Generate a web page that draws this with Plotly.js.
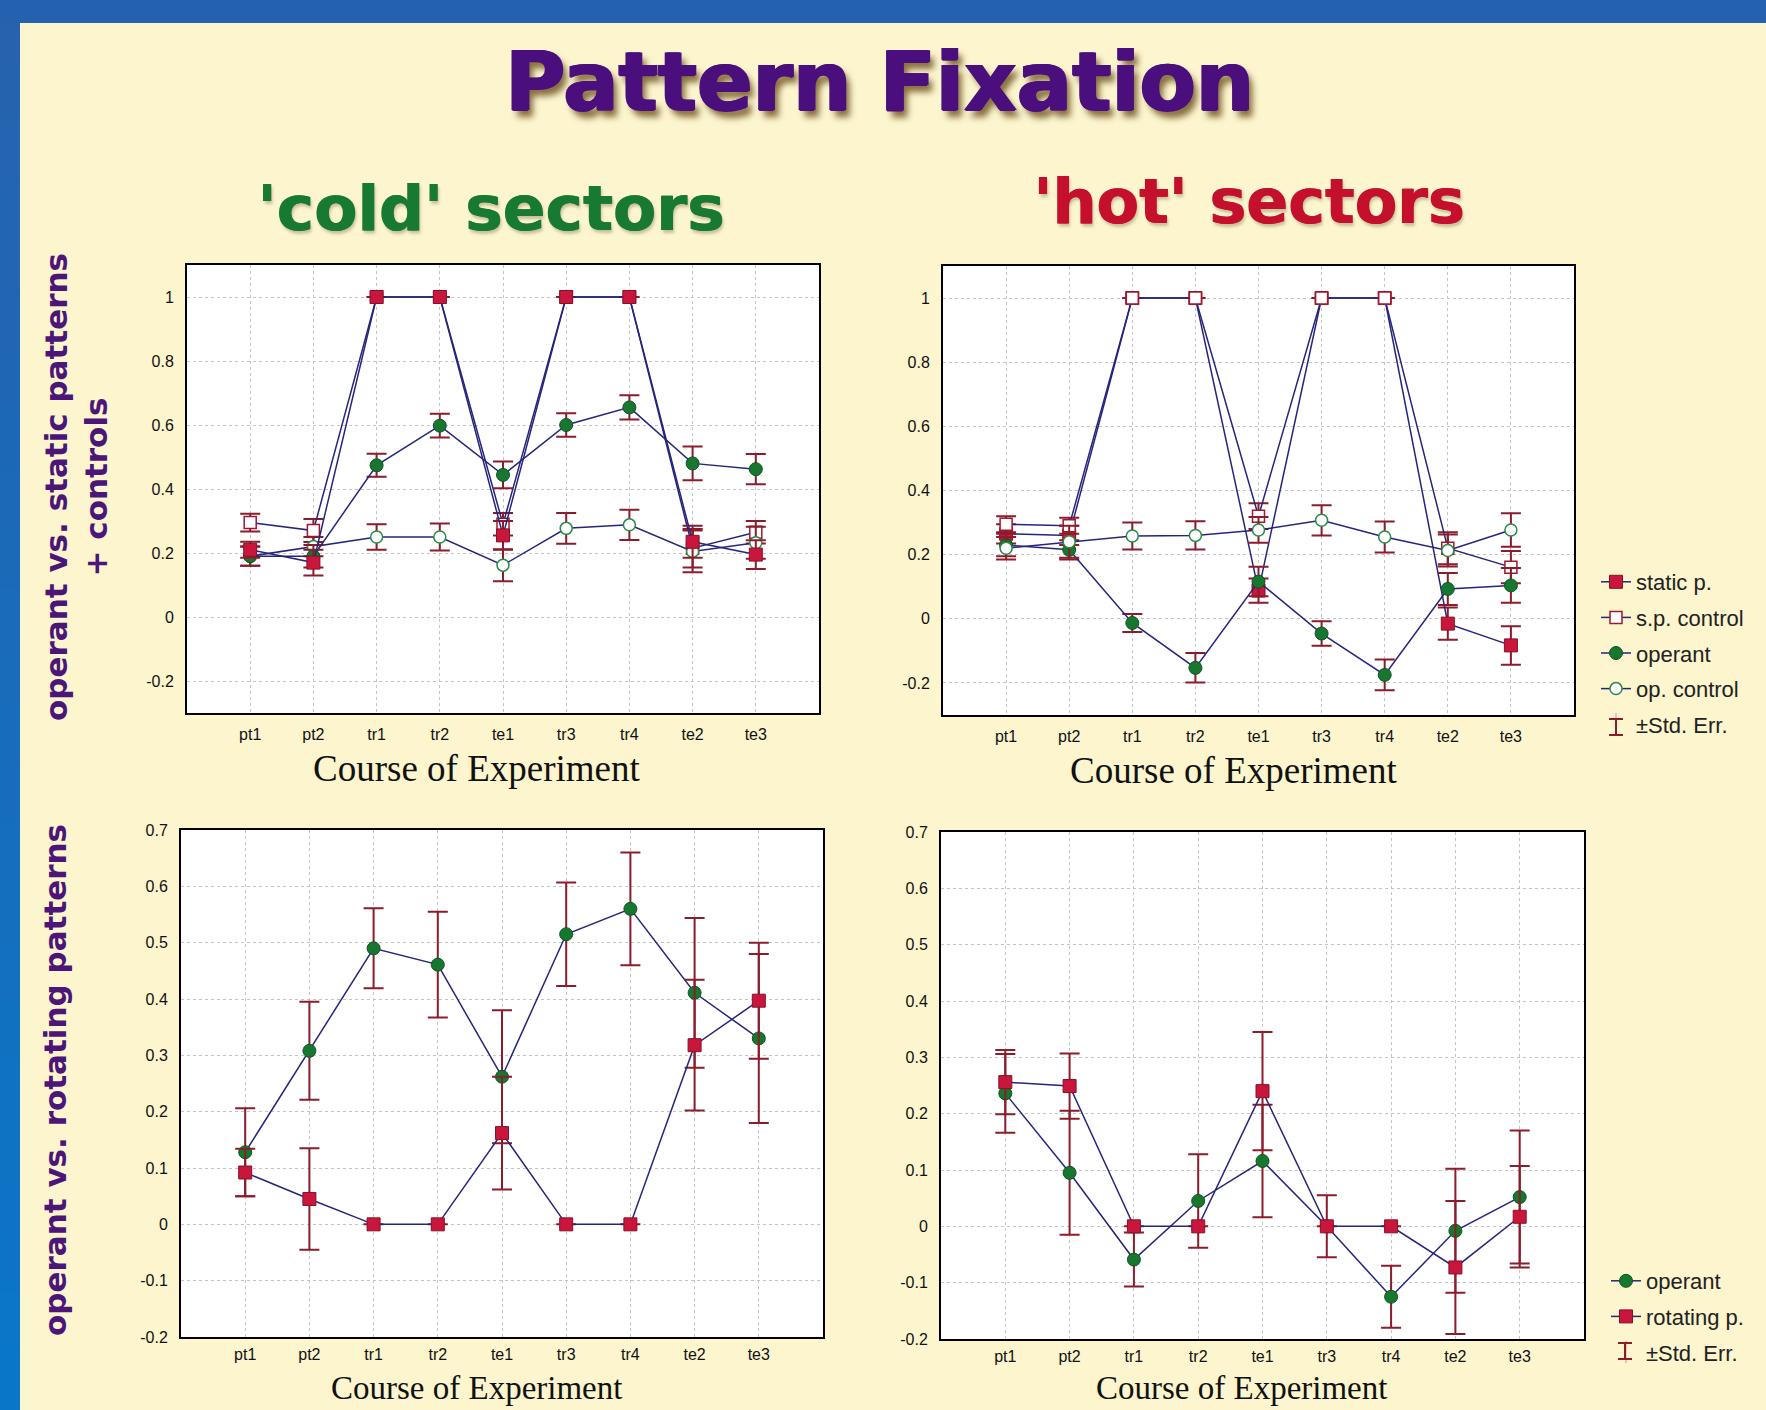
<!DOCTYPE html>
<html>
<head>
<meta charset="utf-8">
<script src="https://cdn.plot.ly/plotly-3.0.1.min.js"></script>
<style>
html,body{margin:0;padding:0;background:#fcf5ce;}
#chart{width:1766px;height:1410px;}
</style>
</head>
<body>
<div id="chart"></div>
<script>
// ---------- DATA ----------
const categories = ["pt1","pt2","tr1","tr2","te1","tr3","tr4","te2","te3"];

// 'cold' sectors, operant vs. static patterns + controls
const coldStatic       = [0.21, 0.17, 1, 1, 0.255, 1, 1, 0.235, 0.195];
const coldStaticErr    = [0.025, 0.04, null, null, 0.045, null, null, 0.05, 0.045];
const coldSpControl    = [0.295, 0.27, 1, 1, 0.29, 1, 1, 0.215, 0.265];
const coldSpControlErr = [0.028, 0.036, null, null, 0.035, null, null, 0.06, 0.035];
const coldOperant      = [0.19, 0.19, 0.474, 0.598, 0.444, 0.6, 0.655, 0.48, 0.462];
const coldOperantErr   = [0.03, 0.035, 0.036, 0.037, 0.042, 0.037, 0.038, 0.053, 0.047];
const coldOpControl    = [0.19, 0.22, 0.25, 0.25, 0.162, 0.277, 0.288, 0.205, 0.232];
const coldOpControlErr = [0.03, 0.03, 0.04, 0.042, 0.05, 0.048, 0.047, 0.065, 0.05];

// 'hot' sectors, operant vs. static patterns + controls
const hotStatic        = [0.265, 0.26, 1, 1, 0.088, 1, 1, -0.015, -0.083];
const hotStaticErr     = [0.03, 0.03, null, null, 0.038, null, null, 0.05, 0.06];
const hotSpControl     = [0.295, 0.29, 1, 1, 0.32, 1, 1, 0.22, 0.161];
const hotSpControlErr  = [0.025, 0.025, null, null, 0.04, null, null, 0.05, 0.05];
const hotOperant       = [0.23, 0.215, -0.013, -0.153, 0.116, -0.046, -0.175, 0.093, 0.104];
const hotOperantErr    = [0.035, 0.03, 0.028, 0.046, 0.046, 0.038, 0.048, 0.05, 0.054];
const hotOpControl     = [0.22, 0.24, 0.258, 0.26, 0.277, 0.307, 0.255, 0.213, 0.277];
const hotOpControlErr  = [0.035, 0.05, 0.042, 0.044, 0.04, 0.047, 0.048, 0.05, 0.052];

// 'cold' sectors, operant vs. rotating patterns
const coldOperantRot    = [0.128, 0.308, 0.49, 0.461, 0.262, 0.515, 0.56, 0.411, 0.33];
const coldOperantRotErr = [0.078, 0.087, 0.071, 0.094, 0.118, 0.092, 0.1, 0.133, 0.15];
const coldRotating      = [0.092, 0.045, 0, 0, 0.162, 0, 0, 0.318, 0.397];
const coldRotatingErr   = [0.042, 0.09, null, null, 0.1, null, null, 0.116, 0.103];

// 'hot' sectors, operant vs. rotating patterns
const hotOperantRot     = [0.236, 0.095, -0.059, 0.045, 0.116, 0, -0.125, -0.008, 0.052];
const hotOperantRotErr  = [0.07, 0.11, 0.048, 0.083, 0.1, 0.055, 0.055, 0.11, 0.118];
const hotRotating       = [0.256, 0.249, 0, 0, 0.24, 0, 0, -0.073, 0.017];
const hotRotatingErr    = [0.057, 0.058, null, null, 0.105, null, null, 0.118, 0.09];

// tick labels
const topTickVals    = [-0.2, 0, 0.2, 0.4, 0.6, 0.8, 1];
const topTickText    = ["-0.2","0","0.2","0.4","0.6","0.8","1"];
const bottomTickVals = [-0.2, -0.1, 0, 0.1, 0.2, 0.3, 0.4, 0.5, 0.6, 0.7];
const bottomTickText = ["-0.2","-0.1","0","0.1","0.2","0.3","0.4","0.5","0.6","0.7"];

// ---------- STYLE ----------
const W = 1766, H = 1410;
const px = v => v / W;
const py = v => 1 - v / H;

const lineStyle = {color: '#25257d', width: 1.5};
const errColor = '#8b1c2c';
const mkStatic    = {symbol: 'square', size: 13, color: '#c8163c', line: {color: '#8a1026', width: 1}};
const mkSpControl = {symbol: 'square', size: 12, color: '#ffffff', line: {color: '#a01830', width: 1.5}};
const mkOperant   = {symbol: 'circle', size: 13, color: '#17762f', line: {color: '#0f5520', width: 1}};
const mkOpControl = {symbol: 'circle', size: 12, color: '#ffffff', line: {color: '#2a8a46', width: 1.5}};

function err(arr) {
  return {type: 'data', array: arr, visible: true, color: errColor, thickness: 2, width: 10};
}
function tr(y, e, marker, name, xa, ya, opts) {
  return Object.assign({
    type: 'scatter', mode: 'lines+markers',
    x: categories, y: y, error_y: err(e),
    marker: marker, line: lineStyle, name: name,
    xaxis: xa, yaxis: ya, showlegend: false, cliponaxis: false
  }, opts || {});
}
function stdErrTrace(xa, ya, leg, grp) {
  return {
    type: 'scatter', mode: 'markers', x: [categories[0]], y: [null],
    name: '±Std. Err.', xaxis: xa, yaxis: ya, legend: leg, legendgroup: grp,
    showlegend: true,
    marker: {symbol: 'line-ns-open', size: 16, opacity: 0, color: errColor, line: {color: errColor, width: 2}}
  };
}

const traces = [
  // top-left: cold, static
  tr(coldSpControl, coldSpControlErr, mkSpControl, 's.p. control', 'x', 'y'),
  tr(coldOpControl, coldOpControlErr, mkOpControl, 'op. control', 'x', 'y'),
  tr(coldOperant, coldOperantErr, mkOperant, 'operant', 'x', 'y'),
  tr(coldStatic, coldStaticErr, mkStatic, 'static p.', 'x', 'y'),
  // top-right: hot, static (carries legend 1)
  tr(hotStatic, hotStaticErr, mkStatic, 'static p.', 'x2', 'y2', {showlegend: true, legend: 'legend', legendgroup: 'a1'}),
  tr(hotSpControl, hotSpControlErr, mkSpControl, 's.p. control', 'x2', 'y2', {showlegend: true, legend: 'legend', legendgroup: 'a2'}),
  tr(hotOperant, hotOperantErr, mkOperant, 'operant', 'x2', 'y2', {showlegend: true, legend: 'legend', legendgroup: 'a3'}),
  tr(hotOpControl, hotOpControlErr, mkOpControl, 'op. control', 'x2', 'y2', {showlegend: true, legend: 'legend', legendgroup: 'a4'}),
  stdErrTrace('x2', 'y2', 'legend', 'a5'),
  // bottom-left: cold, rotating
  tr(coldOperantRot, coldOperantRotErr, mkOperant, 'operant', 'x3', 'y3'),
  tr(coldRotating, coldRotatingErr, mkStatic, 'rotating p.', 'x3', 'y3'),
  // bottom-right: hot, rotating (carries legend 2)
  tr(hotOperantRot, hotOperantRotErr, mkOperant, 'operant', 'x4', 'y4', {showlegend: true, legend: 'legend2', legendgroup: 'b1'}),
  tr(hotRotating, hotRotatingErr, mkStatic, 'rotating p.', 'x4', 'y4', {showlegend: true, legend: 'legend2', legendgroup: 'b2'}),
  stdErrTrace('x4', 'y4', 'legend2', 'b3')
];

function xAxis(x0, x1, anchor, standoff) {
  return {
    domain: [px(x0), px(x1)], anchor: anchor,
    type: 'category', categoryarray: categories, range: [-1, 9],
    showline: true, mirror: true, linecolor: '#000', linewidth: 2,
    showgrid: true, gridcolor: '#c4c4c4', griddash: 'dot', gridwidth: 1,
    zeroline: false, ticks: '', ticklabelstandoff: standoff,
    tickfont: {family: 'Liberation Sans, Arial, sans-serif', size: 16, color: '#111'},
    fixedrange: true
  };
}
function yAxis(y0, y1, anchor, range, vals, text) {
  return {
    domain: [py(y1), py(y0)], anchor: anchor, range: range,
    tickvals: vals, ticktext: text,
    showline: true, mirror: true, linecolor: '#000', linewidth: 2,
    showgrid: true, gridcolor: '#c4c4c4', griddash: 'dot', gridwidth: 1,
    zeroline: false, ticks: '', ticklabelstandoff: 8,
    tickfont: {family: 'Liberation Sans, Arial, sans-serif', size: 16, color: '#111'},
    fixedrange: true
  };
}

// blue frame (gradient strip on the left, bar on top)
const shapes = [];
const nSeg = 24;
for (let i = 0; i < nSeg; i++) {
  const t = i / (nSeg - 1);
  const r = Math.round(38 + (10 - 38) * t), g = Math.round(98 + (118 - 98) * t), b = Math.round(174 + (200 - 174) * t);
  shapes.push({type: 'rect', xref: 'paper', yref: 'paper', x0: 0, x1: px(20),
    y0: 1 - (i + 1) / nSeg - 0.001, y1: 1 - i / nSeg,
    fillcolor: `rgb(${r},${g},${b})`, line: {width: 0}});
}
shapes.push({type: 'rect', xref: 'paper', yref: 'paper', x0: 0, x1: 1, y0: py(23), y1: 1,
  fillcolor: '#2462b0', line: {width: 0}});

// "±Std. Err." legend glyphs (I-beam)
function iBeam(cx, cy, h, w) {
  const s = {type: 'line', xref: 'paper', yref: 'paper', line: {color: errColor, width: 2}};
  return [
    Object.assign({}, s, {x0: px(cx), x1: px(cx), y0: py(cy - h / 2), y1: py(cy + h / 2)}),
    Object.assign({}, s, {x0: px(cx - w / 2), x1: px(cx + w / 2), y0: py(cy - h / 2), y1: py(cy - h / 2)}),
    Object.assign({}, s, {x0: px(cx - w / 2), x1: px(cx + w / 2), y0: py(cy + h / 2), y1: py(cy + h / 2)})
  ];
}
shapes.push(...iBeam(1616, 727, 16, 14));
shapes.push(...iBeam(1625, 1351, 16, 14));

const purple = '#4b0f7d';
const titleFont = {family: 'DejaVu Sans, Verdana, sans-serif', size: 82, color: purple,
                   shadow: `1.5px 0 0 ${purple}, -1px 0 0 ${purple}, 0 1px 0 ${purple}, 5px 7px 6px rgba(95,65,15,0.75)`};
const greenTxt = '#187a32', redTxt = '#c4102c';
const axTitleFont = {family: 'Liberation Serif, Times New Roman, serif', size: 37, color: '#111'};
const axTitleFontLow = {family: 'Liberation Serif, Times New Roman, serif', size: 33, color: '#111'};
function note(text, x, y, font, extra) {
  return Object.assign({text: text, x: px(x), y: py(y), xref: 'paper', yref: 'paper',
    xanchor: 'center', yanchor: 'middle', showarrow: false, font: font}, extra || {});
}

const annotations = [
  note('<b>Pattern Fixation</b>', 879, 82, titleFont),
  note("<b>'cold' sectors</b>", 490, 208,
       {family: 'DejaVu Sans, Verdana, sans-serif', size: 63, color: greenTxt,
        shadow: `1px 0 0 ${greenTxt}, 2px 3px 3px rgba(150,140,100,0.5)`}),
  note("<b>'hot' sectors</b>", 1248, 202,
       {family: 'DejaVu Sans, Verdana, sans-serif', size: 62, color: redTxt,
        shadow: `1px 0 0 ${redTxt}, 2px 3px 3px rgba(150,140,100,0.5)`}),
  note('<b>operant vs. static patterns<br>+ controls</b>', 76, 487,
       {family: 'DejaVu Sans, Verdana, sans-serif', size: 31, color: '#4b1678'}, {textangle: -90}),
  note('<b>operant vs. rotating patterns</b>', 55, 1080,
       {family: 'DejaVu Sans, Verdana, sans-serif', size: 31, color: '#4b1678'}, {textangle: -90}),
  note('Course of Experiment', 476, 769, axTitleFont),
  note('Course of Experiment', 1233, 771, axTitleFont),
  note('Course of Experiment', 476, 1388, axTitleFontLow),
  note('Course of Experiment', 1241, 1388, axTitleFontLow)
];

const legendCommon = {
  xanchor: 'left', yanchor: 'top', bgcolor: 'rgba(0,0,0,0)', borderwidth: 0,
  font: {family: 'Liberation Sans, Arial, sans-serif', size: 22, color: '#222'},
  traceorder: 'grouped', tracegroupgap: 4, itemclick: false, itemdoubleclick: false
};

const layout = {
  width: W, height: H,
  margin: {l: 0, r: 0, t: 0, b: 0},
  paper_bgcolor: '#fcf5ce', plot_bgcolor: '#ffffff',
  showlegend: true,
  xaxis:  xAxis(187, 819, 'y', 6),
  yaxis:  yAxis(265, 713, 'x', [-0.3, 1.1], topTickVals, topTickText),
  xaxis2: xAxis(943, 1574, 'y2', 6),
  yaxis2: yAxis(266, 715, 'x2', [-0.3, 1.1], topTickVals, topTickText),
  xaxis3: xAxis(181, 823, 'y3', 2),
  yaxis3: yAxis(830, 1337, 'x3', [-0.2, 0.7], bottomTickVals, bottomTickText),
  xaxis4: xAxis(941, 1584, 'y4', 2),
  yaxis4: yAxis(832, 1339, 'x4', [-0.2, 0.7], bottomTickVals, bottomTickText),
  legend:  Object.assign({}, legendCommon, {x: px(1596), y: py(561)}),
  legend2: Object.assign({}, legendCommon, {x: px(1606), y: py(1260)}),
  shapes: shapes,
  annotations: annotations
};

Plotly.newPlot('chart', traces, layout, {displayModeBar: false, staticPlot: true});
</script>
</body>
</html>
